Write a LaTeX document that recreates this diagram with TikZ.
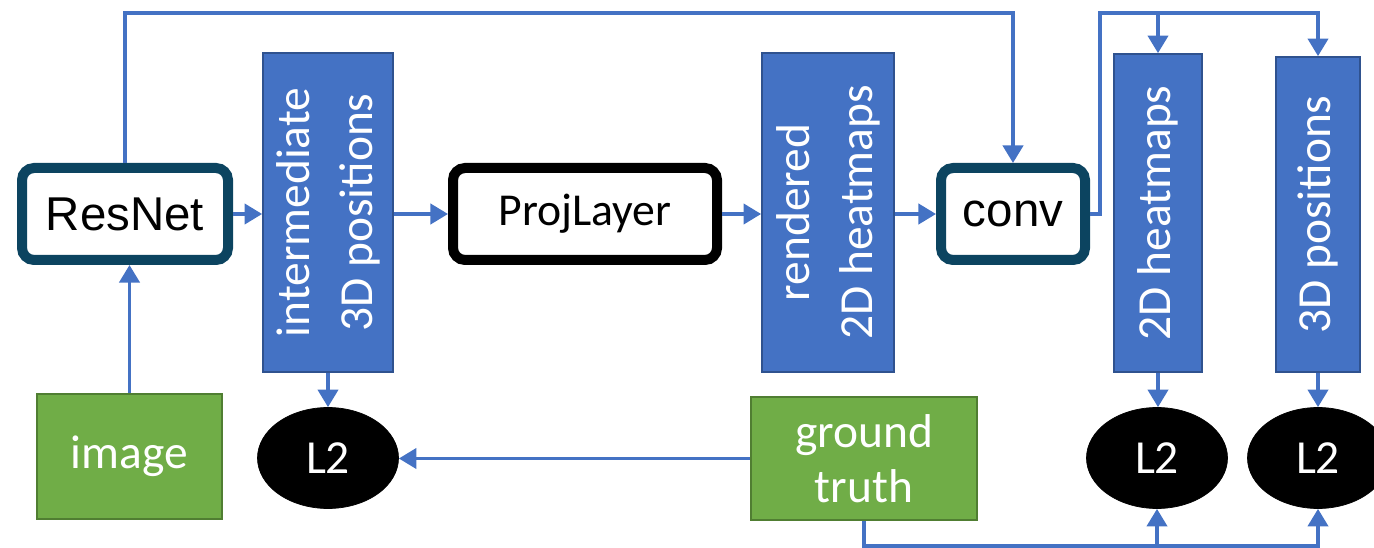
\documentclass[tikz,border=0pt]{standalone}
\usepackage{fontspec}
\setmainfont{Carlito}
\newfontfamily\arialfont{Liberation Sans}
\usetikzlibrary{arrows.meta,shapes.geometric}

\definecolor{boxblue}{HTML}{4472C4}
\definecolor{boxblueline}{HTML}{2F528F}
\definecolor{boxgreen}{HTML}{70AD47}
\definecolor{boxgreenline}{HTML}{507E32}
\definecolor{netteal}{HTML}{0C4460}

% one unit of the grid
\def\pxu{0.2mm}

\tikzset{
    datablock/.style={draw=boxblueline,fill=boxblue,line width=1pt,inner sep=0pt},
    datalabel/.style={rotate=90,text=white,align=center,font=\fontsize{27}{36}\selectfont},
    inputblock/.style={draw=boxgreenline,fill=boxgreen,line width=1.2pt,text=white,align=center,font=\fontsize{27}{31}\selectfont},
    netblock/.style={draw=netteal,fill=white,line width=2mm,rounded corners=2.4mm,inner sep=0pt,
        minimum height=92*\pxu,font=\arialfont\fontsize{27}{30}\selectfont},
    lossnode/.style={ellipse,draw=black,fill=black,text=white,inner sep=0pt,
        minimum width=141*\pxu,minimum height=101*\pxu,font=\fontsize{27}{30}\selectfont},
    flow/.style={draw=boxblue,line width=2pt,-{Triangle[width=11.5pt,length=10pt]}},
}

\begin{document}
\begin{tikzpicture}[x=\pxu,y=-\pxu]
    \useasboundingbox (0,0) rectangle (1374,548);
    %% networks
    \node[netblock,minimum width=206*\pxu] (resnet) at (125,214) {ResNet};
    \node[netblock,draw=black,font=\fontsize{26}{30}\selectfont,minimum width=264*\pxu] (proj) at (585,214) {ProjLayer};
    \node[netblock,minimum width=144*\pxu] (conv) at (1013,214) {conv};
    %% predictions
    \node[datablock,minimum width=130*\pxu,minimum height=319*\pxu] (inter) at (328,212.5) {};
    \node[datalabel] at (inter) {intermediate\\3D positions};
    \node[datablock,minimum width=132*\pxu,minimum height=319*\pxu] (rendered) at (828,212.5) {};
    \node[datalabel] at (rendered) {rendered\\2D heatmaps};
    \node[datablock,minimum width=88*\pxu,minimum height=318*\pxu] (heat2d) at (1158,213) {};
    \node[datalabel] at (heat2d) {2D heatmaps};
    \node[datablock,minimum width=84*\pxu,minimum height=315*\pxu] (pos3d) at (1318,214.5) {};
    \node[datalabel] at (pos3d) {3D positions};
    %% inputs
    \node[inputblock,minimum width=185*\pxu,minimum height=125*\pxu] (image) at (129.5,456.5) {image};
    \node[inputblock,minimum width=226*\pxu,minimum height=123*\pxu] (truth) at (864,458.5) {ground\\truth};
    %% losses
    \node[lossnode] (l2a) at (328,458) {L2};
    \node[lossnode] (l2b) at (1157,458) {L2};
    \node[lossnode] (l2c) at (1318,458) {L2};
    %% rails
    \coordinate (toprail) at (0,13);
    \coordinate (botrail) at (0,546);

    %% main flow
    \draw[flow] (image.north) -- (image.north |- resnet.south);
    \draw[flow] (resnet.east) -- (resnet.east -| inter.west);
    \draw[flow] (inter.east |- proj.west) -- (proj.west);
    \draw[flow] (proj.east) -- (proj.east -| rendered.west);
    \draw[flow] (rendered.east |- conv.west) -- (conv.west);
    \draw[flow] (resnet.north) |- (conv.north |- toprail) -- (conv.north);
    \draw[flow] (conv.east) -- ++(10,0) |- (pos3d.north |- toprail) -- (pos3d.north);
    \draw[flow] (heat2d.north |- toprail) -- (heat2d.north);
    %% supervision
    \draw[flow] (inter.south) -- (l2a.north);
    \draw[flow] (heat2d.south) -- (heat2d.south |- l2b.north);
    \draw[flow] (pos3d.south) -- (l2c.north);
    \draw[flow] (truth.west) -- (truth.west -| l2a.east);
    \draw[flow] (truth.south) |- (l2c.south |- botrail) -- (l2c.south);
    \draw[flow] (l2b.south |- botrail) -- (l2b.south);
\end{tikzpicture}
\end{document}
